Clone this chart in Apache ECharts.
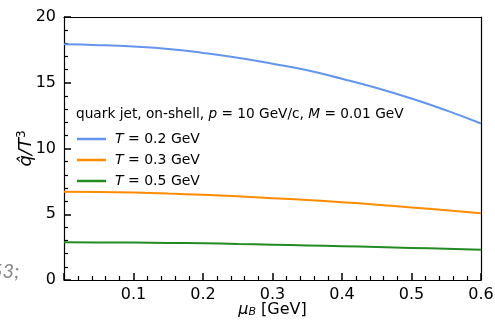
<!DOCTYPE html>
<html>
<head>
<meta charset="utf-8">
<script src="https://cdn.jsdelivr.net/npm/echarts@6/dist/echarts.min.js"></script>
<style>
  html, body { margin: 0; padding: 0; background: #fff; }
  #main { width: 495px; height: 322px; }
</style>
</head>
<body>
<div id="main"></div>
<script>
// μ_B 取值 (GeV)
const muB = [0, 0.05, 0.1, 0.15, 0.2, 0.25, 0.3, 0.35, 0.4, 0.45, 0.5, 0.55, 0.6];
// q̂/T^3 曲线
const qT02 = [17.92, 17.86, 17.75, 17.57, 17.27, 16.9, 16.45, 15.95, 15.3, 14.6, 13.8, 12.9, 11.9];
const qT03 = [6.72, 6.70, 6.65, 6.57, 6.48, 6.36, 6.22, 6.08, 5.92, 5.73, 5.52, 5.30, 5.07];
const qT05 = [2.87, 2.86, 2.85, 2.82, 2.79, 2.74, 2.69, 2.63, 2.57, 2.51, 2.44, 2.37, 2.30];
const seriesNames = ['T = 0.2 GeV', 'T = 0.3 GeV', 'T = 0.5 GeV'];
const seriesColors = ['#6495ED', '#FF8C00', '#228B22'];

const font = 'DejaVu Sans';
const chart = echarts.init(document.getElementById('main'));

const pairs = (ys) => muB.map((x, i) => [x, ys[i]]);

// 刻度朝内，主刻度 + 次刻度
const tickStyle = { show: true, inside: true, length: 7, lineStyle: { color: '#000', width: 1.5 } };
const minorStyle = { show: true, splitNumber: 5, length: 4, lineStyle: { color: '#000', width: 1.2 } };

// 边框轴（上、右），只画轴线
const frameAxis = {
  axisLine: { show: true, onZero: false, lineStyle: { color: '#000', width: 1.2 } },
  axisTick: { show: false },
  axisLabel: { show: false },
  splitLine: { show: false }
};

chart.setOption({
  animation: false,
  grid: {
    left: 64, right: 14, top: 17, bottom: 42,
    outerBoundsMode: 'none', containLabel: false
  },
  title: {
    text: 'quark jet, on-shell, {i|p} = 10 GeV/c, {i|M} = 0.01 GeV',
    left: 76, top: 107, padding: 0,
    textStyle: {
      fontFamily: font, fontSize: 13.7, fontWeight: 'normal', color: '#000',
      rich: { i: { fontFamily: font, fontSize: 13.7, fontStyle: 'italic', color: '#000' } }
    }
  },
  legend: {
    orient: 'vertical', left: 77, top: 131, padding: 0,
    itemWidth: 29, itemHeight: 2.5, itemGap: 5,
    icon: 'rect',
    data: seriesNames,
    formatter: (n) => '{i|T} ' + n.slice(2),
    textStyle: {
      fontFamily: font, fontSize: 14, color: '#000', lineHeight: 16, padding: [0, 0, 0, 4],
      rich: { i: { fontFamily: font, fontSize: 14, fontStyle: 'italic', color: '#000' } }
    }
  },
  xAxis: [{
    type: 'value', min: 0, max: 0.6, interval: 0.1, position: 'bottom',
    name: '{i|μ}{s|B} [GeV]', nameLocation: 'middle', nameGap: 21, nameMoveOverlap: false,
    nameTextStyle: {
      fontFamily: font, fontSize: 16, color: '#000',
      rich: {
        i: { fontFamily: font, fontSize: 16, fontStyle: 'italic', color: '#000' },
        s: { fontFamily: font, fontSize: 11, fontStyle: 'italic', color: '#000', verticalAlign: 'bottom', padding: [6, 0, 0, 0] }
      }
    },
    axisLine: { show: true, onZero: false, lineStyle: { color: '#000', width: 1.2 } },
    axisTick: tickStyle,
    minorTick: minorStyle,
    splitLine: { show: false },
    axisLabel: { showMinLabel: false, fontFamily: font, fontSize: 16, color: '#000', margin: 7 }
  }, Object.assign({ type: 'value', min: 0, max: 0.6, position: 'top' }, frameAxis)],
  yAxis: [{
    type: 'value', min: 0, max: 20, interval: 5, position: 'left',
    name: '{i|q̂/T}{s|3}', nameLocation: 'middle', nameGap: 27, nameRotate: 90, nameMoveOverlap: false,
    nameTextStyle: {
      fontFamily: font, fontSize: 18, color: '#000',
      rich: {
        i: { fontFamily: font, fontSize: 18, fontStyle: 'italic', color: '#000' },
        s: { fontFamily: font, fontSize: 12, color: '#000', verticalAlign: 'top', padding: [0, 0, 9, 0] }
      }
    },
    axisLine: { show: true, onZero: false, lineStyle: { color: '#000', width: 1.2 } },
    axisTick: tickStyle,
    minorTick: minorStyle,
    splitLine: { show: false },
    axisLabel: { fontFamily: font, fontSize: 16, color: '#000', margin: 8 }
  }, Object.assign({ type: 'value', min: 0, max: 20, position: 'right' }, frameAxis)],
  graphic: [{
    type: 'text', left: -9, top: 262,
    style: { text: '53;', font: 'italic 20px Lato', fill: '#888' }
  }],
  series: [qT02, qT03, qT05].map((ys, i) => ({
    name: seriesNames[i],
    type: 'line',
    data: pairs(ys),
    smooth: true,
    showSymbol: false,
    symbol: 'none',
    lineStyle: { color: seriesColors[i], width: 2 },
    itemStyle: { color: seriesColors[i] }
  }))
});
</script>
</body>
</html>
